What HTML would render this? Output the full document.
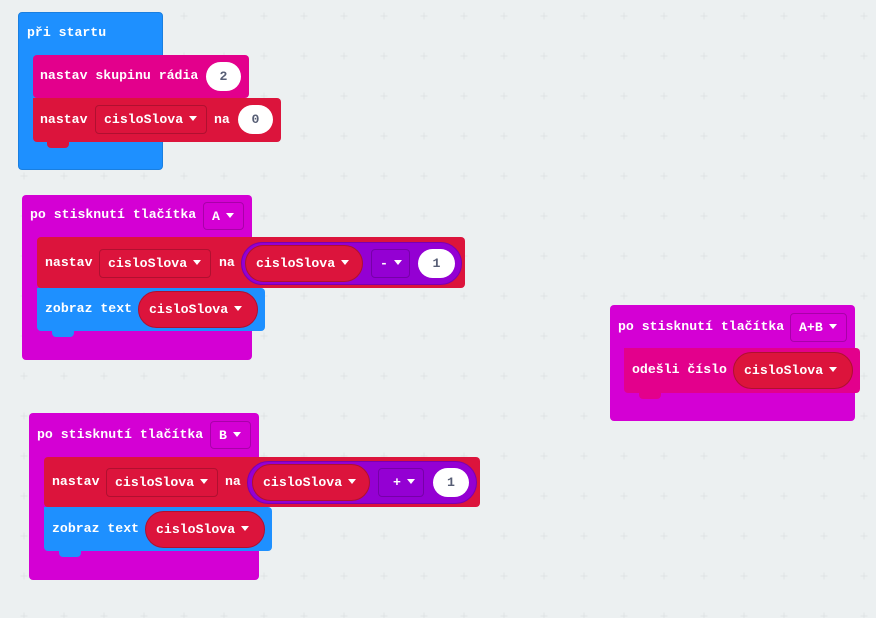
<!DOCTYPE html>
<html><head><meta charset="utf-8"><style>
body{margin:0;width:876px;height:618px;background:#ecf0f1;position:relative;overflow:hidden;font-family:"Liberation Mono",monospace;font-weight:bold;font-size:13.2px;color:#fff}
.a{position:absolute;box-sizing:border-box}
.blk{position:absolute;border-radius:4px}
.t{position:absolute;height:16px;line-height:16px;white-space:pre}
.dd{position:absolute;box-sizing:border-box;border:1px solid rgba(0,0,0,.2);border-radius:4px;line-height:27px;padding-left:8px;white-space:pre}
.ov{position:absolute;background:#fff;color:#575e75;border-radius:15px;text-align:center;line-height:29px}
.pill{position:absolute;box-sizing:border-box;background:#dc143c;border:1px solid #b0102f;border-radius:19px;padding-left:10px;white-space:pre}
.tri{display:inline-block;width:0;height:0;border-left:4px solid transparent;border-right:4px solid transparent;border-top:5px solid #fff;vertical-align:middle;margin-left:6px;margin-top:-2px}
.tab{position:absolute;height:6px;width:22px;border-radius:0 0 4px 4px}
</style></head><body>
<svg class="a" style="left:0;top:0" width="876" height="618"><defs><pattern id="g" x="4" y="-4" width="40" height="40" patternUnits="userSpaceOnUse"><path d="M16.5 20h7M20 16.5v7" stroke="#dfe3e5" stroke-width="1"/></pattern></defs><rect width="876" height="618" fill="url(#g)"/></svg>

<!-- při startu -->
<div class="blk" style="left:18px;top:12px;width:145px;height:158px;background:#1e90ff;border:1px solid #1a7fe0;box-sizing:border-box"></div>
<div class="t" style="left:27px;top:25px">při startu</div>
<div class="blk" style="left:33px;top:55px;width:216px;height:43px;background:#e3008c"></div>
<div class="t" style="left:40px;top:68px">nastav skupinu rádia</div>
<div class="ov" style="left:206px;top:62px;width:35px;height:29px">2</div>
<div class="blk" style="left:33px;top:98px;width:248px;height:44px;background:#dc143c;border-radius:0 4px 4px 4px"></div>
<div class="tab" style="left:47px;top:142px;background:#dc143c"></div>
<div class="t" style="left:40px;top:112px">nastav</div>
<div class="dd" style="left:95px;top:105px;width:112px;height:29px">cisloSlova<span class="tri"></span></div>
<div class="t" style="left:214px;top:112px">na</div>
<div class="ov" style="left:238px;top:105px;width:35px;height:29px">0</div>

<!-- A -->
<div class="blk" style="left:22px;top:195px;width:230px;height:165px;background:#d400d4"></div>
<div class="t" style="left:30px;top:207px">po stisknutí tlačítka</div>
<div class="dd" style="left:203px;top:202px;width:41px;height:28px">A<span class="tri"></span></div>
<div class="blk" style="left:37px;top:237px;width:428px;height:51px;background:#dc143c"></div>
<div class="t" style="left:45px;top:255px">nastav</div>
<div class="dd" style="left:99px;top:249px;width:112px;height:29px">cisloSlova<span class="tri"></span></div>
<div class="t" style="left:219px;top:255px">na</div>
<div class="a" style="left:241px;top:242px;width:221px;height:43px;background:#9400d3;border:1px solid #7a00b0;border-radius:22px"></div>
<div class="pill" style="left:245px;top:245px;width:118px;height:37px;line-height:35px">cisloSlova<span class="tri"></span></div>
<div class="dd" style="left:371px;top:249px;width:39px;height:29px">-<span class="tri"></span></div>
<div class="ov" style="left:418px;top:249px;width:37px;height:29px">1</div>
<div class="blk" style="left:37px;top:288px;width:228px;height:43px;background:#1e90ff;border-radius:0 4px 4px 4px"></div>
<div class="tab" style="left:52px;top:331px;background:#1e90ff"></div>
<div class="t" style="left:45px;top:301px">zobraz text</div>
<div class="pill" style="left:138px;top:291px;width:120px;height:37px;line-height:35px">cisloSlova<span class="tri"></span></div>

<!-- B -->
<div class="blk" style="left:29px;top:413px;width:230px;height:167px;background:#d400d4"></div>
<div class="t" style="left:37px;top:427px">po stisknutí tlačítka</div>
<div class="dd" style="left:210px;top:421px;width:41px;height:28px">B<span class="tri"></span></div>
<div class="blk" style="left:44px;top:457px;width:436px;height:50px;background:#dc143c"></div>
<div class="t" style="left:52px;top:474px">nastav</div>
<div class="dd" style="left:106px;top:468px;width:112px;height:29px">cisloSlova<span class="tri"></span></div>
<div class="t" style="left:225px;top:474px">na</div>
<div class="a" style="left:247px;top:461px;width:230px;height:43px;background:#9400d3;border:1px solid #7a00b0;border-radius:22px"></div>
<div class="pill" style="left:252px;top:464px;width:118px;height:37px;line-height:35px">cisloSlova<span class="tri"></span></div>
<div class="dd" style="left:378px;top:468px;width:46px;height:29px;padding-left:14px">+<span class="tri"></span></div>
<div class="ov" style="left:433px;top:468px;width:36px;height:29px">1</div>
<div class="blk" style="left:44px;top:507px;width:228px;height:44px;background:#1e90ff;border-radius:0 4px 4px 4px"></div>
<div class="tab" style="left:59px;top:551px;background:#1e90ff"></div>
<div class="t" style="left:52px;top:521px">zobraz text</div>
<div class="pill" style="left:145px;top:511px;width:120px;height:37px;line-height:35px">cisloSlova<span class="tri"></span></div>

<!-- A+B -->
<div class="blk" style="left:610px;top:305px;width:245px;height:116px;background:#d400d4"></div>
<div class="t" style="left:618px;top:319px">po stisknutí tlačítka</div>
<div class="dd" style="left:790px;top:313px;width:57px;height:29px">A+B<span class="tri"></span></div>
<div class="blk" style="left:624px;top:348px;width:236px;height:45px;background:#e3008c;border-radius:0 4px 4px 4px"></div>
<div class="tab" style="left:639px;top:393px;background:#e3008c"></div>
<div class="t" style="left:632px;top:362px">odešli číslo</div>
<div class="pill" style="left:733px;top:352px;width:120px;height:37px;line-height:35px">cisloSlova<span class="tri"></span></div>
</body></html>
